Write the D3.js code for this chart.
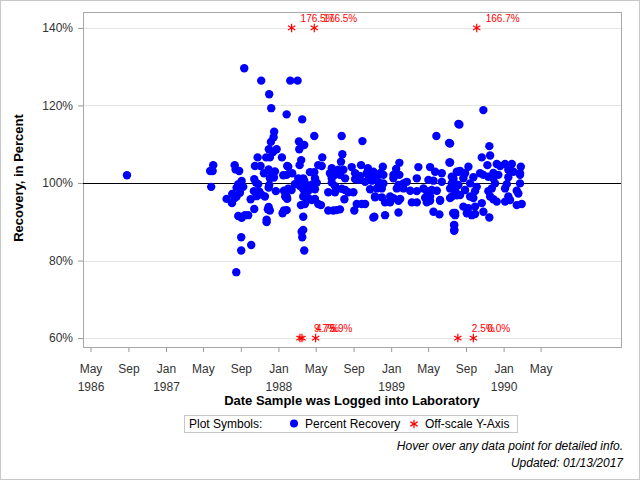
<!DOCTYPE html>
<html>
<head>
<meta charset="utf-8">
<script src="https://cdnjs.cloudflare.com/ajax/libs/d3/7.8.5/d3.min.js"></script>
<style>
    body { margin: 0; background: #fff; }
    svg { display: block; font-family: "Liberation Sans", Arial, sans-serif; }
</style>
</head>
<body>
<svg id="chart" width="640" height="480"></svg>
<script>
// sample log date (decimal year) and percent recovery
var recovery = [
    [1986.653, 102.0],
    [1987.696, 129.6], [1987.847, 126.4], [1988.105, 126.4], [1988.170, 126.4], [1987.918, 122.9],
    [1987.936, 119.3], [1988.073, 117.7], [1987.962, 113.2], [1987.957, 111.8], [1987.933, 110.6],
    [1987.915, 108.7], [1987.984, 108.7], [1987.953, 108.0],
    [1987.815, 106.6], [1987.891, 106.6], [1987.924, 106.6], [1988.031, 106.6],
    [1987.420, 104.6], [1987.415, 103.1], [1987.393, 103.1],
    [1987.611, 104.6], [1987.619, 103.5], [1987.651, 103.1], [1987.791, 104.4], [1987.841, 104.4],
    [1987.871, 102.5], [1987.913, 103.5], [1987.942, 102.5], [1987.969, 103.0], [1988.078, 104.4], [1988.073, 102.1],
    [1988.043, 102.0], [1987.960, 101.4], [1987.924, 101.2],
    [1987.402, 99.0], [1987.785, 101.0], [1987.800, 100.1], [1987.820, 99.7],
    [1987.673, 100.5], [1987.643, 99.7], [1987.664, 99.2], [1987.628, 98.8], [1987.687, 99.0],
    [1987.918, 99.5], [1987.913, 98.8],
    [1987.539, 95.9], [1987.589, 97.2], [1987.611, 96.1], [1987.587, 94.8], [1987.628, 96.5], [1987.658, 97.5],
    [1987.782, 97.9], [1987.829, 97.8], [1987.806, 96.6], [1987.850, 97.0], [1987.753, 95.8], [1987.880, 96.5],
    [1987.977, 97.9], [1988.049, 98.0], [1988.060, 96.5], [1988.078, 95.9],
    [1987.785, 93.3], [1987.913, 93.8], [1987.924, 92.9], [1987.906, 93.2],
    [1987.643, 91.5], [1987.673, 91.0], [1987.702, 91.7], [1987.731, 91.7],
    [1987.895, 90.5], [1987.895, 89.9], [1988.037, 92.2], [1988.049, 92.9],
    [1987.669, 86.0], [1987.669, 82.6], [1987.758, 84.0], [1987.625, 77.0],

    [1988.211, 116.4], [1988.318, 112.1], [1988.561, 112.1], [1988.745, 110.8],
    [1988.182, 110.7], [1988.229, 109.8], [1988.185, 108.7], [1988.567, 107.4], [1988.389, 106.6],
    [1988.202, 105.9], [1988.188, 104.6], [1988.555, 105.5],
    [1988.087, 104.2], [1988.353, 104.6], [1988.384, 104.4], [1988.733, 104.6], [1988.793, 103.8], [1988.650, 104.1],
    [1988.473, 103.8], [1988.531, 103.4], [1988.576, 103.4], [1988.280, 102.8], [1988.318, 102.8], [1988.122, 102.5],
    [1988.457, 102.5], [1988.502, 102.1], [1988.546, 102.1], [1988.680, 102.5], [1988.724, 101.8], [1988.784, 102.5], [1988.833, 102.1],
    [1988.176, 101.2], [1988.220, 101.2], [1988.324, 101.2], [1988.473, 101.2], [1988.591, 101.2], [1988.680, 101.0],
    [1988.798, 100.9], [1988.709, 100.8],
    [1988.146, 99.7], [1988.191, 99.2], [1988.241, 99.7], [1988.473, 100.1], [1988.502, 99.2], [1988.769, 100.3], [1988.828, 100.6],
    [1988.200, 100.2], [1988.211, 99.0], [1988.229, 100.6], [1988.300, 99.6], [1988.340, 100.1],
    [1988.087, 98.5], [1988.117, 98.2], [1988.220, 98.4], [1988.265, 98.0], [1988.324, 98.4], [1988.442, 97.6],
    [1988.502, 97.6], [1988.561, 98.5], [1988.591, 98.2], [1988.620, 97.6], [1988.665, 97.6],
    [1988.073, 96.5], [1988.220, 96.5], [1988.265, 96.1], [1988.295, 95.6], [1988.324, 95.9], [1988.585, 95.8], [1988.857, 96.3],
    [1988.200, 94.3], [1988.235, 94.6], [1988.353, 94.6], [1988.377, 94.3], [1988.695, 94.6], [1988.739, 94.6], [1988.769, 94.6],
    [1988.442, 92.9], [1988.487, 92.9], [1988.517, 93.0], [1988.546, 93.2], [1988.673, 92.9], [1988.073, 93.0],
    [1988.220, 91.3], [1988.842, 91.1], [1988.220, 87.9], [1988.206, 87.4], [1988.211, 86.0], [1988.229, 82.6],

    [1989.598, 115.2], [1989.402, 112.1], [1989.515, 110.3], [1989.518, 105.3], [1989.073, 105.2],
    [1989.242, 104.1], [1989.346, 104.1], [1988.926, 104.2], [1989.044, 103.6],
    [1988.842, 102.9], [1988.902, 102.5], [1988.931, 102.1], [1989.020, 102.1], [1989.073, 102.1], [1989.391, 102.9],
    [1989.450, 102.5], [1989.539, 101.6], [1989.598, 102.9], [1988.828, 101.8], [1988.873, 101.6],
    [1989.228, 101.2], [1989.139, 100.3], [1989.109, 99.9], [1989.065, 99.5], [1989.020, 101.2],
    [1989.331, 100.8], [1989.376, 100.6], [1989.450, 100.3], [1989.553, 100.6], [1988.887, 100.2], [1988.931, 99.9],
    [1988.873, 98.6], [1988.917, 98.6], [1989.050, 98.6], [1989.109, 98.6], [1989.169, 98.0], [1989.228, 97.9],
    [1989.287, 98.6], [1989.317, 97.9], [1989.361, 98.2], [1989.406, 98.0], [1989.524, 98.6], [1989.569, 98.0], [1988.813, 98.4],
    [1988.857, 96.5], [1988.917, 96.3], [1988.991, 96.5], [1989.020, 96.1], [1989.080, 95.9], [1989.302, 96.2],
    [1989.346, 96.5], [1989.435, 95.6], [1989.524, 96.1], [1989.584, 96.8],
    [1988.946, 95.0], [1988.991, 95.0], [1989.065, 95.4], [1989.184, 95.0], [1989.228, 95.0], [1989.317, 95.0],
    [1989.346, 95.4], [1989.435, 95.4],
    [1988.851, 91.3], [1988.946, 91.7], [1989.065, 92.4], [1989.376, 92.6], [1989.429, 91.9], [1989.553, 92.1], [1989.569, 92.3],
    [1989.560, 89.2], [1989.562, 87.9],

    [1989.820, 118.8], [1989.607, 115.1], [1989.524, 110.2], [1989.873, 109.5], [1989.524, 105.3],
    [1989.806, 106.6], [1989.880, 107.1],
    [1989.856, 104.6], [1989.939, 104.9], [1989.969, 104.4], [1990.013, 104.9], [1990.073, 104.9], [1990.153, 104.2],
    [1989.687, 104.2], [1989.613, 103.1], [1989.584, 102.9], [1989.657, 102.5], [1989.791, 102.5], [1989.820, 102.1],
    [1989.909, 102.6], [1989.953, 102.1], [1990.042, 103.4], [1990.087, 102.9], [1990.146, 102.5],
    [1989.553, 101.2], [1989.642, 101.2], [1989.731, 101.5], [1989.864, 101.6], [1989.909, 101.2], [1990.042, 101.5], [1990.146, 102.1],
    [1989.539, 99.9], [1989.598, 99.5], [1989.702, 99.9], [1989.761, 99.0], [1989.924, 99.9], [1990.028, 99.7], [1990.146, 99.9],
    [1989.569, 98.6], [1989.657, 98.2], [1989.746, 97.9], [1989.864, 97.9], [1989.895, 98.6], [1990.013, 98.6], [1990.117, 98.0],
    [1989.539, 96.5], [1989.613, 96.9], [1989.702, 96.5], [1989.731, 96.1], [1989.880, 96.5], [1989.909, 95.8],
    [1990.042, 96.5], [1990.131, 97.3],
    [1989.642, 93.9], [1989.687, 93.5], [1989.746, 93.9], [1989.806, 94.8], [1989.939, 95.2], [1990.013, 95.2],
    [1990.057, 95.6], [1990.117, 94.3], [1990.161, 94.6],
    [1989.553, 92.3], [1989.569, 91.7], [1989.673, 92.2], [1989.717, 91.7], [1989.746, 92.0], [1989.820, 92.6],
    [1989.873, 91.1], [1989.560, 89.1], [1989.560, 87.7]
];

// values outside the y-axis range, drawn on the 140% / 60% lines
var offHighYear = [1988.117, 1988.318, 1989.761];
var offHighPct = [176.5, 176.5, 166.7];
var offLowYear = [1988.191, 1988.209, 1988.330, 1989.593, 1989.731];
var offLowPct = [9.7, 4.7, 5.9, 2.5, 0.0];

var tickDates = ["1986-05-01", "1986-09-01", "1987-01-01", "1987-05-01", "1987-09-01", "1988-01-01", "1988-05-01",
    "1988-09-01", "1989-01-01", "1989-05-01", "1989-09-01", "1990-01-01", "1990-05-01"];
var yTicks = [60, 80, 100, 120, 140];

function yearToDate(v) {
    var yr = Math.floor(v);
    var start = new Date(yr, 0, 1), end = new Date(yr + 1, 0, 1);
    return new Date(+start + (v - yr) * (end - start));
}

var svg = d3.select("#chart");
var plotLeft = 83, plotRight = 621, plotTop = 12, plotBottom = 347;

svg.append("rect").attr("x", 0.5).attr("y", 0.5).attr("width", 639).attr("height", 479)
    .attr("fill", "#fff").attr("stroke", "#c8c8c8");

var x = d3.scaleTime().domain([yearToDate(1986.262), yearToDate(1991.044)]).range([plotLeft, plotRight]);
var y = d3.scaleLinear().domain([57.7, 144.1]).range([plotBottom, plotTop]);

// grid
svg.append("g").selectAll("line").data(yTicks.filter(function (d) { return d != 100; })).enter()
    .append("line")
    .attr("x1", plotLeft).attr("x2", plotRight)
    .attr("y1", function (d) { return Math.round(y(d)) + 0.5; })
    .attr("y2", function (d) { return Math.round(y(d)) + 0.5; })
    .attr("stroke", "#e4e4e4");

// y axis
var yAxis = svg.append("g").attr("transform", "translate(" + plotLeft + ",0)")
    .call(d3.axisLeft(y).tickValues(yTicks).tickSize(5).tickFormat(function (d) { return d + "%"; }));
yAxis.select(".domain").remove();
yAxis.selectAll("line").attr("stroke", "#999");
yAxis.selectAll("text").attr("font-size", 12).attr("fill", "#333")
    .attr("font-family", "Liberation Sans, Arial").attr("x", -10);

// x axis
var parse = d3.timeParse("%Y-%m-%d");
var xAxis = svg.append("g").attr("transform", "translate(0," + plotBottom + ")")
    .call(d3.axisBottom(x).tickValues(tickDates.map(parse)).tickSize(5).tickFormat(""));
xAxis.select(".domain").remove();
xAxis.selectAll("line").attr("stroke", "#999");
var tickText = xAxis.selectAll(".tick").append("text")
    .attr("fill", "#333").attr("font-size", 12).attr("text-anchor", "middle")
    .attr("font-family", "Liberation Sans, Arial");
tickText.append("tspan").attr("x", 0).attr("y", 26).text(function (d) { return d3.timeFormat("%b")(d); });
tickText.append("tspan").attr("x", 0).attr("y", 44)
    .text(function (d, i) { return (i == 0 || d.getMonth() == 0) ? d.getFullYear() : ""; });

// frame
svg.append("rect").attr("x", plotLeft + 0.5).attr("y", plotTop + 0.5)
    .attr("width", plotRight - plotLeft).attr("height", plotBottom - plotTop)
    .attr("fill", "none").attr("stroke", "#a8a8a8");

// 100% reference
svg.append("line").attr("x1", plotLeft).attr("x2", plotRight)
    .attr("y1", Math.round(y(100)) + 0.5).attr("y2", Math.round(y(100)) + 0.5)
    .attr("stroke", "#000");

// points
svg.append("g").selectAll("circle").data(recovery).enter()
    .append("circle")
    .attr("cx", function (d) { return x(yearToDate(d[0])); })
    .attr("cy", function (d) { return y(d[1]); })
    .attr("r", 4.2)
    .attr("fill", "#0000ff");

var star = d3.symbol().type(d3.symbolAsterisk).size(50);

function offScale(years, pcts, yval, dx) {
    var g = svg.append("g");
    years.forEach(function (yr, i) {
        var px = x(yearToDate(yr)), py = y(yval);
        g.append("path").attr("d", star).attr("transform", "translate(" + px + "," + py + ")")
            .attr("fill", "none").attr("stroke", "#ff0000").attr("stroke-width", 1.2);
        g.append("text").attr("x", px + dx).attr("y", py - 6)
            .attr("font-size", 10).attr("fill", "#ff0000")
            .text(pcts[i].toFixed(1) + "%");
    });
}
offScale(offHighYear, offHighPct, 140, 9);
offScale(offLowYear, offLowPct, 60, 14);

// axis titles
svg.append("text").attr("transform", "translate(23,178) rotate(-90)")
    .attr("text-anchor", "middle").attr("font-size", 13).attr("font-weight", "bold").attr("fill", "#000")
    .text("Recovery, in Percent");
svg.append("text").attr("x", 352).attr("y", 405)
    .attr("text-anchor", "middle").attr("font-size", 13).attr("font-weight", "bold").attr("fill", "#000")
    .text("Date Sample was Logged into Laboratory");

// legend
var legend = svg.append("g");
legend.append("rect").attr("x", 184.5).attr("y", 415.5).attr("width", 333).attr("height", 17)
    .attr("fill", "none").attr("stroke", "#c8c8c8");
legend.append("text").attr("x", 189).attr("y", 428).attr("font-size", 12).attr("fill", "#000").text("Plot Symbols:");
legend.append("circle").attr("cx", 294).attr("cy", 423.5).attr("r", 4).attr("fill", "#0000ff");
legend.append("text").attr("x", 305).attr("y", 428).attr("font-size", 12).attr("fill", "#000").text("Percent Recovery");
legend.append("path").attr("d", star).attr("transform", "translate(414,424)")
    .attr("fill", "none").attr("stroke", "#ff0000").attr("stroke-width", 1.2);
legend.append("text").attr("x", 425).attr("y", 428).attr("font-size", 12).attr("fill", "#000").text("Off-scale Y-Axis");

// footnotes
svg.append("text").attr("x", 623).attr("y", 450).attr("text-anchor", "end")
    .attr("font-size", 12).attr("font-style", "italic").attr("fill", "#000")
    .text("Hover over any data point for detailed info.");
svg.append("text").attr("x", 623).attr("y", 467).attr("text-anchor", "end")
    .attr("font-size", 12).attr("font-style", "italic").attr("fill", "#000")
    .text("Updated: 01/13/2017");
</script>
</body>
</html>
